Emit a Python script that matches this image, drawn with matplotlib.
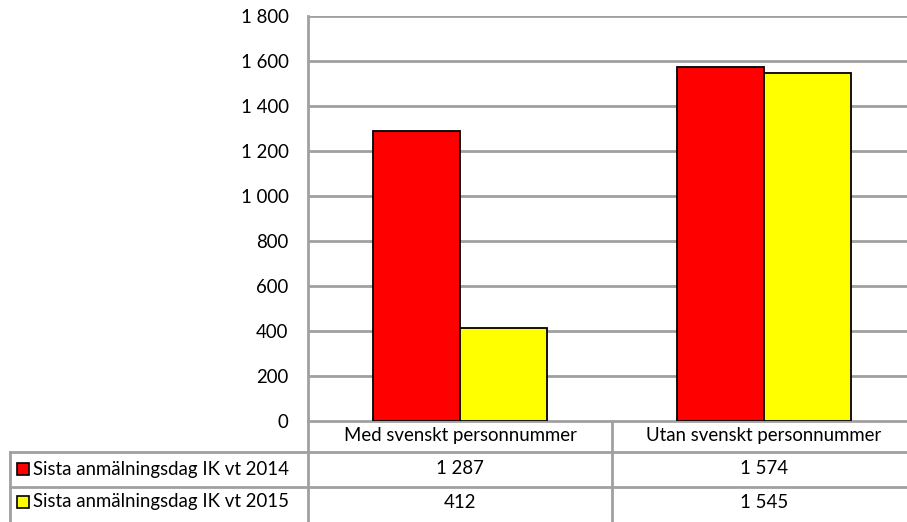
import numpy as np
import matplotlib.pyplot as plt
from matplotlib.transforms import blended_transform_factory

categories = ["Med svenskt personnummer", "Utan svenskt personnummer"]
series_names = ["Sista anmälningsdag IK vt 2014", "Sista anmälningsdag IK vt 2015"]
vt2014 = [1287, 1574]
vt2015 = [412, 1545]
colors = ["#ff0000", "#ffff00"]
yticks = np.arange(0, 1801, 200)

plt.rcParams['font.family'] = ['Lato', 'DejaVu Sans']
FS = 13.4
GRID = "#a0a0a0"


def fmt(v):
    return f"{v:,}".replace(",", " ")


W, H = 907, 522
fig = plt.figure(figsize=(W / 100, H / 100), dpi=100)

# axes in pixel layout (plot area runs a bit past the right edge)
left, right, top, bottom = 308, 916, 16, 421
ax = fig.add_axes([left / W, (H - bottom) / H, (right - left) / W, (bottom - top) / H])

x = np.arange(len(categories))
bw = 0.285
for i, (vals, c) in enumerate(zip([vt2014, vt2015], colors)):
    ax.bar(x + (i - 0.5) * bw, vals, width=bw, color=c, edgecolor="black",
           linewidth=1.3, zorder=3)

ax.set_xlim(-0.5, len(categories) - 0.5)
ax.set_ylim(0, 1800)
ax.set_yticks(yticks)
ax.set_yticklabels([fmt(v) for v in yticks], fontsize=FS)
ax.tick_params(axis="y", length=0, pad=14)
ax.set_xticks([])
ax.grid(axis="y", color=GRID, linewidth=2, zorder=0)
for s in ["top", "right", "bottom"]:
    ax.spines[s].set_visible(False)
ax.spines["left"].set_color(GRID)
ax.spines["left"].set_linewidth(2)

# data table below the chart
ov = fig.add_axes([0, 0, 1, 1], zorder=-1)
ov.set_xlim(0, W)
ov.set_ylim(H, 0)
ov.axis("off")
ov.patch.set_alpha(0)

row_y = [bottom, 452, 487]
ov.plot([10, right], [row_y[1]] * 2, color=GRID, lw=2)
ov.plot([10, right], [row_y[2]] * 2, color=GRID, lw=2)
ov.plot([10, 10], [row_y[1], H + 5], color=GRID, lw=2)
ov.plot([left, left], [bottom, H + 5], color=GRID, lw=2)
ov.plot([left, right], [bottom, bottom], color=GRID, lw=2)
col_w = (right - left) / len(categories)
for k in range(1, len(categories) + 1):
    ov.plot([left + k * col_w] * 2, [bottom, H + 5], color=GRID, lw=2)

tr = blended_transform_factory(ax.transData, ov.transData)
for i, cat in enumerate(categories):
    ov.text(i, 436, cat, transform=tr, ha="center", va="center", fontsize=FS)

row_mid = [469, 502]
for r, (name, vals, c) in enumerate(zip(series_names, [vt2014, vt2015], colors)):
    ym = row_mid[r]
    ov.add_patch(plt.Rectangle((17, ym - 6), 12, 12, facecolor=c,
                               edgecolor="black", lw=1.2))
    ov.text(33, ym, name, ha="left", va="center", fontsize=FS)
    for i, v in enumerate(vals):
        ov.text(i, ym, fmt(v), transform=tr, ha="center", va="center", fontsize=FS)

fig.savefig("out.png", dpi=100)
